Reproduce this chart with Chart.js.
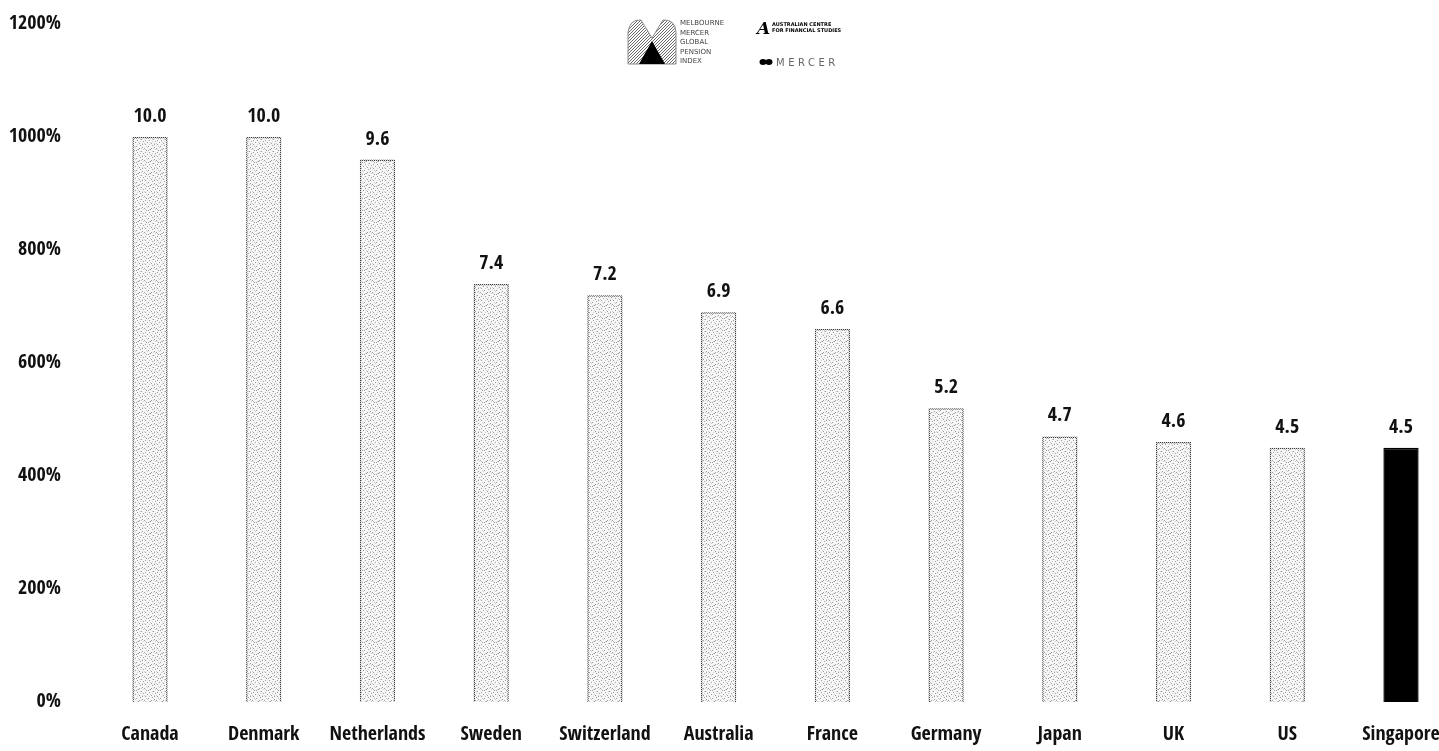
<!DOCTYPE html>
<html>
<head>
<meta charset="utf-8">
<script src="https://cdn.jsdelivr.net/npm/chart.js@4/dist/chart.umd.min.js"></script>
<style>
  html, body { margin: 0; padding: 0; background: #ffffff; }
  #wrap { position: relative; width: 1439px; height: 751px; }
</style>
</head>
<body>
<div id="wrap"><canvas id="chart" width="1439" height="751"></canvas></div>
<script>
// Pension index scores by country (bars) and the percent axis labels
const countries = ['Canada', 'Denmark', 'Netherlands', 'Sweden', 'Switzerland', 'Australia',
                   'France', 'Germany', 'Japan', 'UK', 'US', 'Singapore'];
const scores = [10.0, 10.0, 9.6, 7.4, 7.2, 6.9, 6.6, 5.2, 4.7, 4.6, 4.5, 4.5];
const yTickValues = [0, 2, 4, 6, 8, 10, 12];
const yTickLabels = ['0%', '200%', '400%', '600%', '800%', '1000%', '1200%'];
const highlightCountry = 'Singapore';

const FONT = "'Open Sans Condensed', 'Open Sans', 'Roboto Condensed', sans-serif";

// Stippled light-grey fill used for most bars (fixed dot layout per 12px tile)
function stipplePattern() {
  const c = document.createElement('canvas');
  c.width = 12; c.height = 12;
  const g = c.getContext('2d');
  g.fillStyle = '#f7f7f7';
  g.fillRect(0, 0, 12, 12);
  g.fillStyle = '#9c9c9c';
  [[1, 0], [8, 1], [4, 2], [10, 3], [0, 4], [6, 5], [2, 6], [9, 7], [5, 8], [11, 9], [3, 10], [7, 11],
   [1, 8], [10, 0], [7, 4], [4, 6]]
    .forEach(p => g.fillRect(p[0], p[1], 1, 1));
  g.fillStyle = '#cdcdcd';
  [[5, 0], [2, 2], [11, 5], [8, 9], [0, 11], [6, 10], [3, 3], [9, 4], [1, 5], [10, 11], [5, 5], [8, 7]]
    .forEach(p => g.fillRect(p[0], p[1], 1, 1));
  return g.createPattern(c, 'repeat');
}
// Dotted dark edge for the stippled bars
function dottedEdge() {
  const c = document.createElement('canvas');
  c.width = 2; c.height = 2;
  const g = c.getContext('2d');
  g.fillStyle = '#d4d4d4';
  g.fillRect(0, 0, 2, 2);
  g.fillStyle = '#3f3f3f';
  g.fillRect(0, 0, 1, 1);
  g.fillRect(1, 1, 1, 1);
  return g.createPattern(c, 'repeat');
}
const fillPat = stipplePattern();
const edgePat = dottedEdge();

// Score printed above each bar
const valueLabels = {
  id: 'valueLabels',
  afterDatasetsDraw(chart) {
    const ctx = chart.ctx;
    const meta = chart.getDatasetMeta(0);
    ctx.save();
    ctx.font = "bold 20px " + FONT;
    ctx.fillStyle = '#111111';
    ctx.textAlign = 'center';
    ctx.textBaseline = 'alphabetic';
    meta.data.forEach((bar, i) => {
      ctx.fillText(scores[i].toFixed(1), bar.x, bar.y - 15);
    });
    ctx.restore();
  }
};

// Sponsor marks at the top centre
const sponsorMarks = {
  id: 'sponsorMarks',
  afterDraw(chart) {
    const ctx = chart.ctx;
    ctx.save();
    // index emblem: stippled arch with a dark peak
    const c = document.createElement('canvas');
    c.width = 3; c.height = 3;
    const g = c.getContext('2d');
    g.fillStyle = '#ffffff'; g.fillRect(0, 0, 3, 3);
    g.fillStyle = '#6a6a6a'; g.fillRect(0, 0, 1, 1); g.fillRect(2, 1, 1, 1); g.fillRect(1, 2, 1, 1);
    ctx.fillStyle = ctx.createPattern(c, 'repeat');
    ctx.beginPath();
    ctx.moveTo(628, 64);
    ctx.lineTo(628, 32);
    ctx.quadraticCurveTo(630, 19, 641, 20);
    ctx.lineTo(652, 38);
    ctx.lineTo(663, 20);
    ctx.quadraticCurveTo(675, 19, 676, 32);
    ctx.lineTo(676, 64);
    ctx.closePath();
    ctx.fill();
    ctx.strokeStyle = '#8a8a8a';
    ctx.lineWidth = 1;
    ctx.stroke();
    ctx.fillStyle = '#000000';
    ctx.beginPath();
    ctx.moveTo(639, 64);
    ctx.lineTo(652, 41);
    ctx.lineTo(665, 64);
    ctx.closePath();
    ctx.fill();

    ctx.fillStyle = '#444444';
    ctx.font = "7px 'DejaVu Sans', sans-serif";
    ctx.textBaseline = 'alphabetic';
    ctx.textAlign = 'left';
    ['MELBOURNE', 'MERCER', 'GLOBAL', 'PENSION', 'INDEX'].forEach((t, i) => {
      ctx.fillText(t, 680, 25 + i * 9.5);
    });

    // research centre mark
    ctx.fillStyle = '#000000';
    ctx.font = "italic bold 17px 'DejaVu Serif', serif";
    ctx.fillText('A', 757, 34);
    ctx.font = "bold 5px 'DejaVu Sans', sans-serif";
    ctx.fillText('AUSTRALIAN CENTRE', 772, 26);
    ctx.fillText('FOR FINANCIAL STUDIES', 772, 32);

    // consultancy mark
    ctx.beginPath();
    ctx.ellipse(763, 62, 3.5, 3, 0, 0, Math.PI * 2);
    ctx.ellipse(769, 62, 3.5, 3, 0, 0, Math.PI * 2);
    ctx.fill();
    ctx.fillStyle = '#666666';
    ctx.font = "10px 'DejaVu Sans', sans-serif";
    ctx.letterSpacing = '3.5px';
    ctx.fillText('MERCER', 776, 66);
    ctx.restore();
  }
};

new Chart(document.getElementById('chart'), {
  type: 'bar',
  data: {
    labels: countries,
    datasets: [{
      data: scores,
      backgroundColor: countries.map(c => c === highlightCountry ? '#000000' : fillPat),
      borderColor: countries.map(c => c === highlightCountry ? '#000000' : edgePat),
      borderWidth: 1.5,
      barPercentage: 0.31,
      categoryPercentage: 1.0,
      clip: false
    }]
  },
  options: {
    responsive: false,
    animation: false,
    devicePixelRatio: 1,
    layout: { padding: { top: 24, right: 38, left: 0, bottom: 0 } },
    plugins: {
      legend: { display: false },
      tooltip: { enabled: false }
    },
    scales: {
      x: {
        offset: false,
        grid: { display: false },
        border: { display: false },
        ticks: {
          color: '#111111',
          font: { family: FONT, size: 20, weight: 'bold' },
          padding: 13,
          maxRotation: 0,
          autoSkip: false
        },
        afterFit(scale) {
          scale.height = 49;
          scale.paddingLeft = 0;
          scale.paddingRight = 0;
        }
      },
      y: {
        min: 0,
        max: 12,
        grid: { display: false },
        border: { display: false },
        afterBuildTicks(scale) {
          scale.ticks = yTickValues.map(v => ({ value: v }));
        },
        ticks: {
          color: '#111111',
          font: { family: FONT, size: 20, weight: 'bold' },
          padding: 81,
          callback(value) {
            const i = yTickValues.indexOf(value);
            return i >= 0 ? yTickLabels[i] : '';
          }
        },
        afterFit(scale) {
          scale.width = 150;
          scale.paddingTop = 10;
          scale.paddingBottom = 10;
        }
      }
    }
  },
  plugins: [valueLabels, sponsorMarks]
});
</script>
</body>
</html>
